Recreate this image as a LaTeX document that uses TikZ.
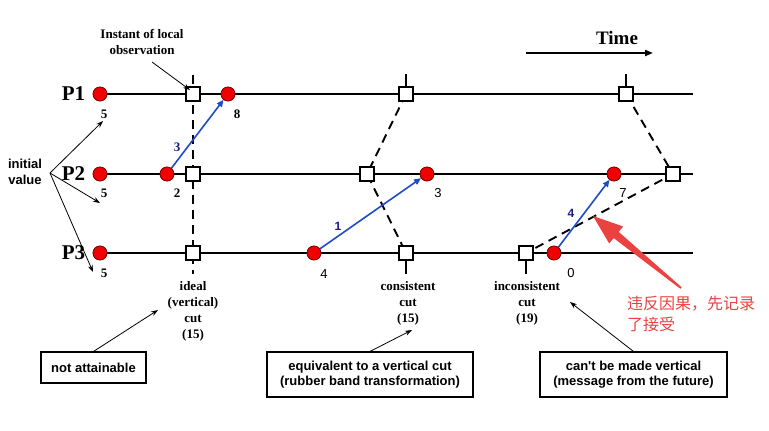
\documentclass[tikz,border=0pt]{standalone}
\usepackage{fontspec}
\setmainfont{Liberation Serif}
\newfontfamily\sansf{Liberation Sans}
\newfontfamily\cjk{Noto Sans CJK SC}
\usetikzlibrary{arrows.meta}
\definecolor{dotred}{RGB}{240,0,0}
\definecolor{msgblue}{RGB}{30,75,200}
\definecolor{lblblue}{RGB}{25,25,140}
\definecolor{annred}{RGB}{235,65,65}
\begin{document}
\begin{tikzpicture}[x=1pt,y=-1pt,
  evt/.style={circle, fill=dotred, draw=red!45!black, line width=0.6pt, minimum size=14pt, inner sep=0pt},
  obs/.style={rectangle, fill=white, draw=black, line width=1.8pt, minimum size=14pt, inner sep=0pt},
  tline/.style={line width=2.2pt},
  cutline/.style={line width=1.9pt, dash pattern=on 9pt off 6pt},
  cuttick/.style={line width=1.9pt},
  msg/.style={draw=msgblue, line width=1.6pt, -{Triangle[length=7pt,width=6pt]}},
  num/.style={inner sep=0pt, font=\bfseries\fontsize{13}{13}\selectfont},
  snum/.style={inner sep=0pt, font=\sansf\fontsize{13}{13}\selectfont},
  blbl/.style={inner sep=0pt, text=lblblue},
  plbl/.style={inner sep=0pt, font=\bfseries\fontsize{21}{21}\selectfont},
  cutlbl/.style={inner sep=0pt, align=center, font=\bfseries\fontsize{13}{16}\selectfont},
  infobox/.style={draw=black, line width=1.1pt, inner sep=0pt, align=center, font=\sansf\bfseries\fontsize{13}{15}\selectfont},
  thinarrow/.style={line width=0.8pt, -{Stealth[length=7pt,width=5pt]}}
]
\useasboundingbox (0,0) rectangle (769,431);

% timeline ends
\coordinate (e1) at (693,94);
\coordinate (e2) at (693,174);
\coordinate (e3) at (693,253);

% events (red dots)
\node[evt] (a1) at (100,94) {};
\node[evt] (a2) at (228,94) {};
\node[evt] (b1) at (100,174) {};
\node[evt] (b2) at (167,174) {};
\node[evt] (b3) at (427,174) {};
\node[evt] (b4) at (614,174) {};
\node[evt] (c1) at (100,253) {};
\node[evt] (c2) at (314,253) {};
\node[evt] (c3) at (554,253) {};

% time lines
\draw[tline] (a1.center) -- (e1);
\draw[tline] (b1.center) -- (e2);
\draw[tline] (c1.center) -- (e3);

% observation points
\coordinate (s11) at (193,94);
\coordinate (s21) at (193,174);
\coordinate (s31) at (193,253);
\coordinate (s12) at (406,94);
\coordinate (s22) at (367,174);
\coordinate (s32) at (406,253);
\coordinate (s13) at (626,94);
\coordinate (s23) at (673,174);
\coordinate (s33) at (526,253);

% cut ticks
\coordinate (t1a) at (193,75);
\coordinate (t1b) at (193,274);
\coordinate (t2a) at (406,74);
\coordinate (t2b) at (406,274);
\coordinate (t3a) at (626,74);
\coordinate (t3b) at (526,274);

\draw[cutline] (t1a) -- (t1b);
\draw[cutline] (s12) -- (s22) -- (s32);
\draw[cutline] (s13) -- (s23) -- (s33);

\foreach \s in {s11,s21,s31,s12,s22,s32,s13,s23,s33}
  \node[obs] (n\s) at (\s) {};

\draw[cuttick] (t2a) -- (ns12.north);
\draw[cuttick] (ns32.south) -- (t2b);
\draw[cuttick] (t3a) -- (ns13.north);
\draw[cuttick] (ns33.south) -- (t3b);

% redraw dots on top
\foreach \x/\y in {100/94,228/94,100/174,167/174,427/174,614/174,100/253,314/253,554/253}
  \node[evt] at (\x,\y) {};

% messages
\draw[msg] (b2) -- (a2);
\draw[msg] (c2) -- (b3);
\draw[msg] (c3) -- (b4);
\node[blbl, font=\bfseries\fontsize{13}{13}\selectfont] (m1) at (177,147) {3};
\node[blbl, font=\sansf\bfseries\fontsize{12}{12}\selectfont] (m2) at (338,226) {1};
\node[blbl, font=\sansf\bfseries\fontsize{12}{12}\selectfont] (m3) at (571,213) {4};

% process labels
\node[plbl] (p1) at (73.5,94) {P1};
\node[plbl] (p2) at (73.5,174) {P2};
\node[plbl] (p3) at (73.5,253) {P3};

% value labels
\node[num] (v1) at (104,114) {5};
\node[num] (v2) at (237,114) {8};
\node[num] (v3) at (104,193) {5};
\node[num] (v4) at (177,193) {2};
\node[snum] (v5) at (438,193) {3};
\node[snum] (v6) at (623,193) {7};
\node[num] (v7) at (104,273) {5};
\node[snum] (v8) at (324,274) {4};
\node[snum] (v9) at (571,273) {0};

% Instant of local observation
\node[cutlbl] (inst) at (142,42) {Instant of local\\observation};
\coordinate (instS) at (152,62);
\coordinate (instT) at (190,90);
\draw[thinarrow] (instS) -- (instT);

% initial value
\node[inner sep=0pt, align=center, font=\sansf\bfseries\fontsize{13}{16}\selectfont] (init) at (25,172) {initial\\value};
\coordinate (iv) at (50,173);
\coordinate (iv1) at (103,121);
\coordinate (iv2) at (100,203);
\coordinate (iv3) at (93,272);
\draw[thinarrow] (iv) -- (iv1);
\draw[thinarrow] (iv) -- (iv2);
\draw[thinarrow] (iv) -- (iv3);

% Time
\node[inner sep=0pt, font=\bfseries\fontsize{19}{19}\selectfont] (time) at (617,38) {Time};
\coordinate (tS) at (526,53);
\coordinate (tE) at (653,53);
\draw[line width=2pt, -{Triangle[length=8pt,width=6pt]}] (tS) -- (tE);

% cut labels
\node[cutlbl] (ideal) at (193,311.5) {ideal\\(vertical)\\cut\\(15)};
\node[cutlbl] (cons) at (408,303) {consistent\\cut\\(15)};
\node[cutlbl] (incons) at (527,303) {inconsistent\\cut\\(19)};

% boxes
\node[infobox, minimum width=105pt, minimum height=31pt] (bx1) at (93.5,367.5) {not attainable};
\node[infobox, minimum width=206pt, minimum height=45pt] (bx2) at (370,374.5) {equivalent to a vertical cut\\(rubber band transformation)};
\node[infobox, minimum width=187pt, minimum height=45pt] (bx3) at (633.5,374.5) {can't be made vertical\\(message from the future)};
\coordinate (bt1) at (158,310);
\coordinate (bt2) at (412,330);
\coordinate (bt3) at (570,302);
\draw[thinarrow] (bx1.north) -- (bt1);
\draw[thinarrow] (bx2.north) -- (bt2);
\draw[thinarrow] (bx3.north) -- (bt3);

% red annotation arrow
\fill[annred] (681.6,287.2) -- (618.7,231.9) -- (623.2,226.5) -- (593,216) -- (609.2,243.5) -- (613.7,238.1) -- (680.4,288.8) -- cycle;
\node[inner sep=0pt, anchor=west, align=left, text=annred, font=\cjk\fontsize{16}{21}\selectfont] (ann) at (627,313.5) {违反因果，先记录\\了接受};
\end{tikzpicture}
\end{document}
